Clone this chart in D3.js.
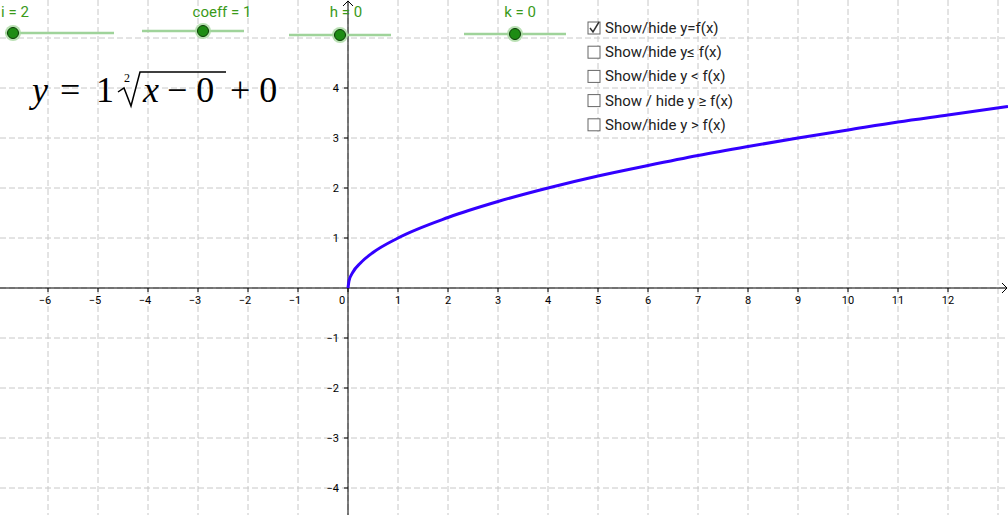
<!DOCTYPE html>
<html><head><meta charset="utf-8">
<script src="https://cdn.jsdelivr.net/npm/d3@7"></script>
<style>body{margin:0;background:#fff}svg{display:block}</style>
</head><body>
<div class="container"></div>
<script>
// points
var curveX = [0, 0.02, 0.1, 0.25, 0.5, 1, 2, 3, 4, 5, 6, 7, 8, 9, 10, 11, 12, 13.2];
var curveY = [0, 0.14, 0.32, 0.5, 0.71, 1, 1.41, 1.73, 2, 2.24, 2.45, 2.65, 2.83, 3, 3.16, 3.32, 3.46, 3.63];
var xTicks = [-6, -5, -4, -3, -2, -1, 0, 1, 2, 3, 4, 5, 6, 7, 8, 9, 10, 11, 12];
var yTicks = [-4, -3, -2, -1, 1, 2, 3, 4];
var sliderLabels = ["i = 2", "coeff = 1", "h = 0", "k = 0"];
var boxLabels = ["Show/hide y=f(x)", "Show/hide y\u2264 f(x)", "Show/hide y < f(x)", "Show / hide y \u2265 f(x)", "Show/hide y > f(x)"];
var boxChecked = [true, false, false, false, false];

const WIDTH = 1008, HEIGHT = 515;
var x = d3.scaleLinear().domain([-6.96, 13.2]).range([0, 1008]);
var y = d3.scaleLinear().domain([5.76, -4.54]).range([0, 515]);

var svg = d3.select('.container').append('svg').attr('width', WIDTH).attr('height', HEIGHT)
  .style('font-family', 'Roboto, sans-serif');

// grid
svg.append('g').selectAll('line').data(d3.range(-6, 14)).enter().append('line')
  .attr('x1', d => x(d)).attr('x2', d => x(d)).attr('y1', 0).attr('y2', HEIGHT)
  .attr('stroke', '#c8c8c8').attr('stroke-dasharray', '6,3');
svg.append('g').selectAll('line').data(d3.range(-4, 6)).enter().append('line')
  .attr('y1', d => y(d)).attr('y2', d => y(d)).attr('x1', 0).attr('x2', WIDTH)
  .attr('stroke', '#c8c8c8').attr('stroke-dasharray', '6,3');

// axes
var x0 = x(0), y0 = y(0);
svg.append('line').attr('x1', 0).attr('x2', WIDTH - 1).attr('y1', y0).attr('y2', y0).attr('stroke', '#000');
svg.append('line').attr('x1', x0).attr('x2', x0).attr('y1', 1).attr('y2', HEIGHT).attr('stroke', '#000');
svg.append('path').attr('d', `M${WIDTH-6},${y0-5}L${WIDTH-1},${y0}L${WIDTH-6},${y0+5}`).attr('fill', 'none').attr('stroke', '#000');
svg.append('path').attr('d', `M${x0-5},${6}L${x0},${1}L${x0+5},${6}`).attr('fill', 'none').attr('stroke', '#000');
svg.append('g').selectAll('line').data(xTicks).enter().append('line')
  .attr('x1', d => x(d)).attr('x2', d => x(d)).attr('y1', y0).attr('y2', y0 + 4).attr('stroke', '#000');
svg.append('g').selectAll('line').data(yTicks).enter().append('line')
  .attr('y1', d => y(d)).attr('y2', d => y(d)).attr('x1', x0 - 4).attr('x2', x0).attr('stroke', '#000');
svg.append('g').selectAll('text').data(xTicks).enter().append('text')
  .attr('x', d => x(d) + (d < 0 ? -3 : 0) + (d === 0 ? -6 : 0)).attr('y', y0 + 16)
  .attr('text-anchor', 'middle').attr('font-size', 11).text(d => d === 0 ? '0' : (d < 0 ? '\u2212' + (-d) : d));
svg.append('g').selectAll('text').data(yTicks).enter().append('text')
  .attr('x', x0 - 9).attr('y', d => y(d) + 4)
  .attr('text-anchor', 'end').attr('font-size', 11).text(d => d < 0 ? '\u2212' + (-d) : d);

// curve
var pts = curveX.map((v, i) => [v, curveY[i]]);
svg.append('path').datum(pts)
  .attr('d', d3.line().x(d => x(d[0])).y(d => y(d[1])).curve(d3.curveMonotoneX))
  .attr('fill', 'none').attr('stroke', '#3300ff').attr('stroke-width', 3);

// sliders
var sliders = [{x1: 5, x2: 114, yy: 33, p: 13, lx: 15}, {x1: 142, x2: 244, yy: 31, p: 203, lx: 222},
  {x1: 289, x2: 391, yy: 35, p: 340, lx: 346}, {x1: 464, x2: 566, yy: 34, p: 515, lx: 520}];
sliders.forEach(function (s, i) {
  svg.append('line').attr('x1', s.x1).attr('x2', s.x2).attr('y1', s.yy).attr('y2', s.yy)
    .attr('stroke', '#9fd39a').attr('stroke-width', 2.5);
  svg.append('circle').attr('cx', s.p).attr('cy', s.yy).attr('r', 8).attr('fill', '#a8d8a0').attr('opacity', 0.8);
  svg.append('circle').attr('cx', s.p).attr('cy', s.yy).attr('r', 5.5).attr('fill', '#1e8c14').attr('stroke', '#0a3d05');
  svg.append('text').attr('x', s.lx).attr('y', 17).attr('text-anchor', 'middle')
    .attr('font-size', 15).attr('fill', '#3a9a1a').text(sliderLabels[i]);
});

// equation
var eq = svg.append('g').style('font-family', '"Liberation Serif", "DejaVu Serif", serif').attr('font-size', 36);
eq.append('text').attr('x', 32).attr('y', 102).attr('font-style', 'italic').text('y');
eq.append('text').attr('x', 60).attr('y', 102).text('=');
eq.append('text').attr('x', 96).attr('y', 102).text('1');
eq.append('text').attr('x', 124).attr('y', 82).attr('font-size', 12).text('2');
eq.append('path').attr('d', 'M118,92 L124,88 L131,106 L140,72 L226,72').attr('fill', 'none').attr('stroke', '#000').attr('stroke-width', 1.5);
eq.append('text').attr('x', 143).attr('y', 102).attr('font-style', 'italic').text('x');
eq.append('text').attr('x', 167).attr('y', 102).text('\u2212 0');
eq.append('text').attr('x', 230).attr('y', 102).text('+ 0');

// checkboxes
boxLabels.forEach(function (t, i) {
  var cy = 28 + i * 24.2;
  svg.append('rect').attr('x', 588).attr('y', cy - 6).attr('width', 12).attr('height', 12)
    .attr('fill', '#fff').attr('stroke', '#666');
  if (boxChecked[i]) svg.append('path').attr('d', `M590,${cy} L593,${cy+4} L599,${cy-6}`).attr('fill', 'none').attr('stroke', '#333').attr('stroke-width', 1.5);
  svg.append('text').attr('x', 605).attr('y', cy + 5).attr('font-size', 15).attr('fill', '#222').text(t);
});
</script>
</body></html>
